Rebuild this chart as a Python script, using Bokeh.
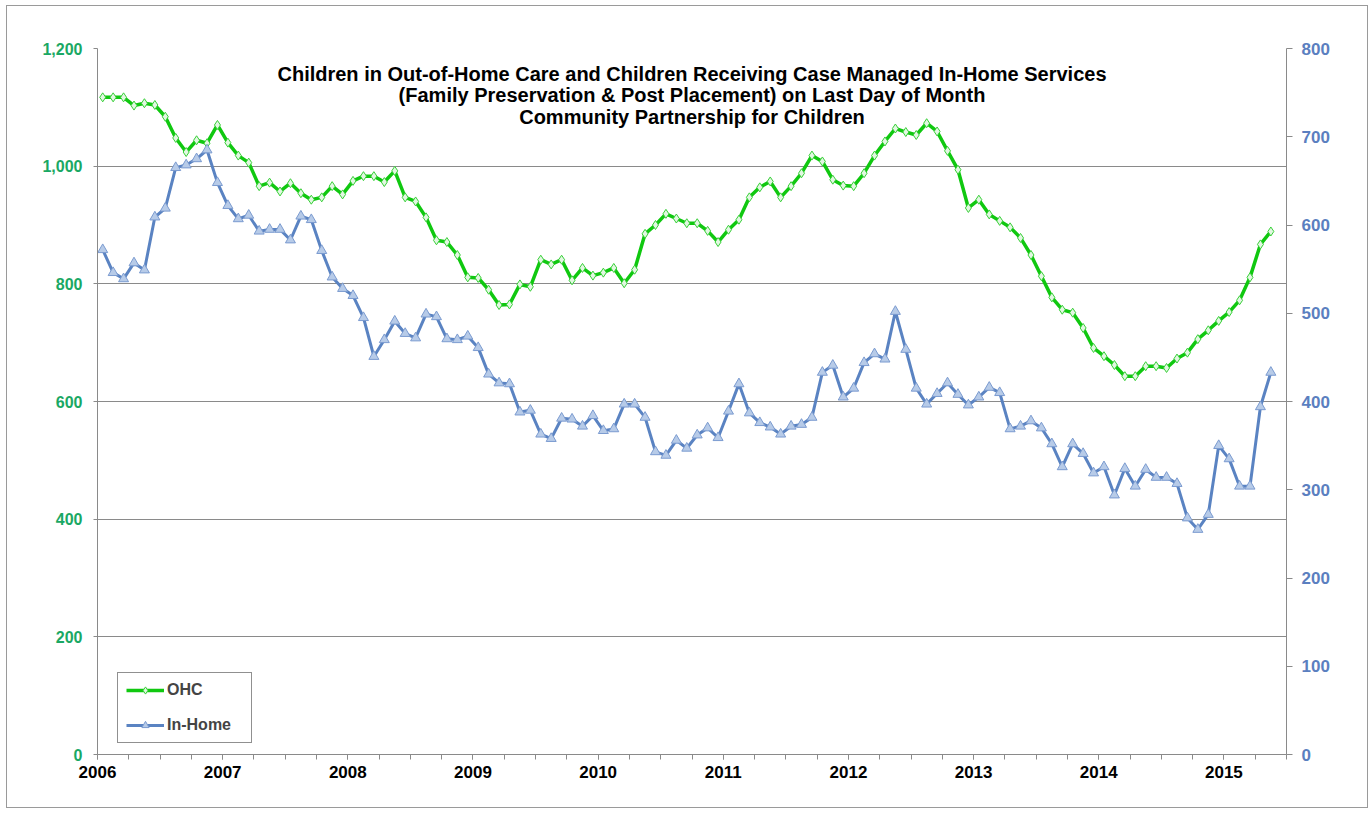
from bokeh.plotting import figure
from bokeh.models import (Range1d, LinearAxis, FixedTicker, NumeralTickFormatter,
                          Legend, LegendItem, Label)
from bokeh.embed import file_html
from bokeh.resources import INLINE

# ---------------- data ----------------
start_year = 2006
# monthly values, Jan 2006 .. May 2015
ohc = [
    1117, 1117, 1117, 1103, 1107, 1104, 1084, 1048, 1024, 1044, 1039, 1070,  # 2006
    1040, 1018, 1006, 966, 972, 957, 971, 954, 943, 947, 966, 952,         # 2007
    975, 983, 983, 973, 992, 947, 940, 913, 874, 871, 849, 811,             # 2008
    810, 790, 764, 765, 799, 795, 841, 833, 841, 806, 827, 814,             # 2009
    819, 827, 801, 824, 885, 900, 919, 911, 903, 903, 890, 871,             # 2010
    892, 909, 947, 964, 974, 947, 966, 988, 1018, 1008, 977, 967,           # 2011
    966, 988, 1018, 1042, 1064, 1058, 1053, 1073, 1059, 1026, 994, 929,     # 2012
    943, 918, 907, 896, 878, 849, 813, 777, 756, 751, 725, 691,             # 2013
    677, 662, 643, 643, 660, 660, 657, 673, 683, 706, 721, 737,             # 2014
    752, 772, 811, 867, 889,                                                # 2015
]
in_home = [
    572, 546, 539, 557, 549, 609, 619, 665, 668, 675, 685, 648,   # 2006
    622, 607, 611, 593, 595, 595, 583, 610, 606, 571, 541, 528,   # 2007
    520, 495, 451, 470, 491, 477, 472, 499, 496, 471, 470, 474,   # 2008
    461, 431, 421, 420, 388, 390, 363, 358, 381, 380, 372, 384,   # 2009
    367, 369, 397, 397, 382, 343, 339, 356, 347, 362, 370, 359,   # 2010
    389, 420, 387, 376, 371, 363, 372, 374, 382, 433, 441, 405,   # 2011
    415, 444, 454, 448, 502, 459, 415, 397, 409, 421, 408, 396,   # 2012
    405, 416, 410, 369, 372, 378, 370, 352, 326, 352, 341, 319,   # 2013
    326, 294, 324, 304, 323, 314, 314, 307, 268, 255, 272, 350,   # 2014
    335, 304, 304, 394, 433,                                      # 2015
]
year_ticks = [2006, 2007, 2008, 2009, 2010, 2011, 2012, 2013, 2014, 2015]
left_ticks = [0, 200, 400, 600, 800, 1000, 1200]
right_ticks = [0, 100, 200, 300, 400, 500, 600, 700, 800]
title_lines = [
    "Children in Out-of-Home Care and Children Receiving Case Managed In-Home Services",
    "(Family Preservation & Post Placement) on Last Day of Month",
    "Community Partnership for Children",
]
series_names = ["OHC", "In-Home"]

# month positions (centre of each month on a year axis)
x = [start_year + (i + 0.5) / 12 for i in range(len(ohc))]
quarter_ticks = [start_year + q / 4 for q in range(39)]

FONT = "Liberation Sans"
GREEN_TXT = "#1aa864"
BLUE_TXT = "#5b7fc0"
GRID = "#8a8a8a"

p = figure(width=1362, height=803, output_backend="svg", toolbar_location=None,
           x_range=Range1d(2006, 2015.5), y_range=Range1d(0, 1200),
           min_border_left=90, min_border_right=83, min_border_top=42,
           min_border_bottom=55)
p.outline_line_color = None
p.background_fill_color = "white"
p.border_fill_color = "white"
p.styles = {"border": "1px solid #9a9a9a", "margin-left": "6px", "margin-top": "5px"}

p.extra_y_ranges = {"r": Range1d(0, 800)}

# grid
p.xgrid.grid_line_color = None
p.ygrid.grid_line_color = GRID
p.ygrid.grid_line_width = 1
p.ygrid.ticker = FixedTicker(ticks=left_ticks)

# left axis
ya = p.yaxis[0]
ya.ticker = FixedTicker(ticks=left_ticks)
ya.formatter = NumeralTickFormatter(format="0,0")
ya.major_label_text_color = GREEN_TXT
ya.major_label_text_font = FONT
ya.major_label_text_font_style = "bold"
ya.major_label_text_font_size = "16px"
ya.axis_line_color = GRID
ya.major_tick_line_color = GRID
ya.major_tick_out = 4
ya.major_tick_in = 0
ya.minor_tick_line_color = None
ya.major_label_standoff = 11

# right axis
ra = LinearAxis(y_range_name="r")
ra.ticker = FixedTicker(ticks=right_ticks)
ra.major_label_text_color = BLUE_TXT
ra.major_label_text_font = FONT
ra.major_label_text_font_style = "bold"
ra.major_label_text_font_size = "17px"
ra.axis_line_color = GRID
ra.major_tick_line_color = GRID
ra.major_tick_out = 6
ra.major_tick_in = 0
ra.minor_tick_line_color = None
ra.major_label_standoff = 9
p.add_layout(ra, "right")

# bottom axis
xa = p.xaxis[0]
xa.ticker = FixedTicker(ticks=year_ticks, minor_ticks=quarter_ticks)
xa.major_label_text_font = FONT
xa.major_label_text_font_style = "bold"
xa.major_label_text_font_size = "17px"
xa.major_label_text_color = "black"
xa.axis_line_color = GRID
xa.major_tick_line_color = GRID
xa.minor_tick_line_color = GRID
xa.major_tick_out = 5
xa.major_tick_in = 0
xa.minor_tick_out = 5
xa.minor_tick_in = 0
xa.major_label_standoff = 6

# series
gl = p.line(x, ohc, line_color="#10c810", line_width=3.5)
gs = p.scatter(x, ohc, marker="diamond", size=9, fill_color="#e2f7e2",
               line_color="#38d038", line_width=1)
bl = p.line(x, in_home, y_range_name="r", line_color="#5a83c2", line_width=3)
bs = p.scatter(x, in_home, y_range_name="r", marker="triangle", size=10,
               fill_color="#b7cbe8", line_color="#7b9bd0", line_width=1)

# title lines (inside the plot)
for k, t in enumerate(title_lines):
    p.add_layout(Label(x=2010.75, y=1157.5 - 37.3 * k, text=t, text_align="center",
                       text_baseline="middle", text_font=FONT, text_font_style="bold",
                       text_font_size="20px", text_color="black"))

legend = Legend(items=[LegendItem(label=series_names[0], renderers=[gl, gs]),
                       LegendItem(label=series_names[1], renderers=[bl, bs])],
                location=(20, 11))
legend.border_line_color = "#222222"
legend.border_line_width = 1
legend.background_fill_color = "white"
legend.background_fill_alpha = 1
legend.label_text_font = FONT
legend.label_text_font_style = "bold"
legend.label_text_font_size = "16px"
legend.glyph_width = 38
legend.glyph_height = 18
legend.label_height = 18
legend.label_width = 76
legend.label_standoff = 3
legend.spacing = 17
legend.padding = 8
legend.margin = 0
p.add_layout(legend)

open("out.html", "w").write(file_html(p, INLINE))
